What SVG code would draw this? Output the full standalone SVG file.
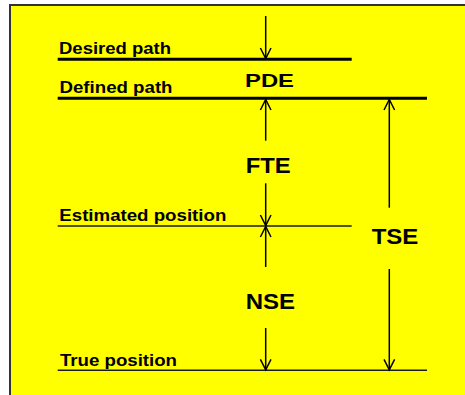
<svg xmlns="http://www.w3.org/2000/svg" width="465" height="395" viewBox="0 0 465 395">
  <style>
    .lbl { font-family: "Liberation Sans", Arial, sans-serif; font-weight: bold; font-size: 16px; fill: #000; }
    .big { font-family: "Liberation Sans", Arial, sans-serif; font-weight: bold; font-size: 22px; fill: #000; }
    .thick { stroke: #000; stroke-width: 3; }
    .thin { stroke: #1a1a1a; stroke-width: 1.6; }
    .arr { stroke: #000; stroke-width: 1.5; fill: none; marker-end: url(#head); }
  </style>
  <defs>
    <marker id="head" viewBox="-12 -7 14 14" refX="0" refY="0" markerWidth="14" markerHeight="14" markerUnits="userSpaceOnUse" orient="auto">
      <path d="M-10.5,-5.3 L0,0 L-10.5,5.3" fill="none" stroke="#000" stroke-width="1.5"/>
    </marker>
  </defs>
  <rect x="10" y="5" width="470" height="400" fill="#ffff00" stroke="#333" stroke-width="2"/>

  <g id="desired-path">
    <line class="thick" x1="57.7" y1="59.3" x2="351.7" y2="59.3"/>
    <text class="lbl" x="59" y="54" textLength="112" lengthAdjust="spacingAndGlyphs">Desired path</text>
  </g>
  <g id="defined-path">
    <line class="thick" x1="57.7" y1="98.3" x2="427" y2="98.3"/>
    <text class="lbl" x="59.5" y="93" textLength="113" lengthAdjust="spacingAndGlyphs">Defined path</text>
  </g>
  <g id="estimated-position">
    <line class="thin" x1="57.7" y1="226" x2="351.7" y2="226"/>
    <text class="lbl" x="59.3" y="221.3" textLength="167" lengthAdjust="spacingAndGlyphs">Estimated position</text>
  </g>
  <g id="true-position">
    <line class="thin" x1="57.7" y1="370.3" x2="427" y2="370.3"/>
    <text class="lbl" x="60" y="366" textLength="117" lengthAdjust="spacingAndGlyphs">True position</text>
  </g>
  <g id="pde">
    <text class="big" x="245" y="87" style="font-size:19px" textLength="49" lengthAdjust="spacingAndGlyphs">PDE</text>
  </g>
  <g id="fte">
    <text class="big" x="245.7" y="172.7" textLength="45" lengthAdjust="spacingAndGlyphs">FTE</text>
  </g>
  <g id="nse">
    <text class="big" x="245.7" y="309" textLength="49.3" lengthAdjust="spacingAndGlyphs">NSE</text>
  </g>
  <g id="tse">
    <text class="big" x="371.7" y="244.3" textLength="46.7" lengthAdjust="spacingAndGlyphs">TSE</text>
  </g>

  <g id="connectors">
    <line class="arr" x1="265.7" y1="16" x2="265.7" y2="58.5"/>
    <line class="arr" x1="265.7" y1="140.7" x2="265.7" y2="99.5"/>
    <line class="arr" x1="265.7" y1="183.3" x2="265.7" y2="225.5"/>
    <line class="arr" x1="265.7" y1="267" x2="265.7" y2="226.5"/>
    <line class="arr" x1="265.7" y1="328" x2="265.7" y2="369.8"/>
    <line class="arr" x1="389.3" y1="207.7" x2="389.3" y2="99.5"/>
    <line class="arr" x1="389.3" y1="269" x2="389.3" y2="369.8"/>
  </g>
</svg>
